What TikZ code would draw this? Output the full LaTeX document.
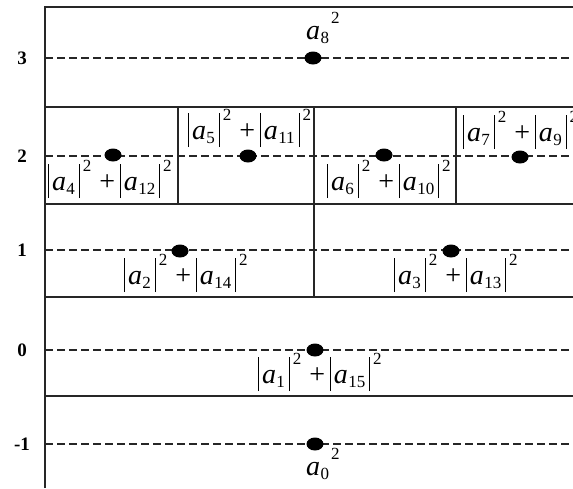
\documentclass[tikz,border=0pt]{standalone}
\usepackage{fontspec}
\setmainfont{Liberation Serif}
\usetikzlibrary{shapes.geometric}

% building blocks for the level labels
\newcommand\vrl{\rule[-8pt]{0.9pt}{34pt}}
\newcommand\scr{\fontsize{17}{17}\selectfont}
\newcommand\absq[1]{\vrl\kern3pt\textit{a}\kern0.3pt\raisebox{-4pt}{\scr #1}\kern4pt\vrl\kern3pt\raisebox{19pt}{\scr 2}}
\newcommand\plusop{\kern8pt+\kern5pt}
\newcommand\asq[1]{\textit{a}\kern0.3pt\raisebox{-4pt}{\scr #1}\kern2pt\raisebox{16pt}{\scr 2}}

\begin{document}
\begin{tikzpicture}[x=1pt, y=-1pt,
  frame/.style={line width=1.2pt, black!85},
  guide/.style={line width=1.1pt, black!85, dash pattern=on 8pt off 4pt},
  dot/.style={ellipse, fill=black, minimum width=17pt, minimum height=13pt, inner sep=0pt},
  term/.style={inner sep=0pt, anchor=base west, font=\fontsize{28}{28}\selectfont},
  rowlab/.style={font=\fontsize{19}{19}\selectfont\bfseries}]
\useasboundingbox (0,0) rectangle (573,488);
\clip (0,0) rectangle (573,488);

% frame: left axis, band separators and cell dividers
\draw[frame] (45,488) -- (45,7) -- (573,7);
\foreach \y in {107,204,297,396} \draw[frame] (45,\y) -- (573,\y);
\foreach \x in {178,314,456} \draw[frame] (\x,107) -- (\x,204);
\draw[frame] (314,204) -- (314,297);

% dashed level lines
\foreach \y in {58,156,250,350,444} \draw[guide] (45,\y) -- (573,\y);

% level numbers
\node[rowlab] (r3) at (22,58) {3};
\node[rowlab] (r2) at (22,156) {2};
\node[rowlab] (r1) at (22,250) {1};
\node[rowlab] (r0) at (22,350) {0};
\node[rowlab] (rm) at (22,444) {-1};

% energy points
\node[dot] (d8) at (313,58) {};
\node[dot] (d4) at (113,155) {};
\node[dot] (d5) at (248,156) {};
\node[dot] (d6) at (384,155) {};
\node[dot] (d7) at (520,157) {};
\node[dot] (d2) at (180,251) {};
\node[dot] (d3) at (451,251) {};
\node[dot] (d1) at (315,350) {};
\node[dot] (d0) at (315,444) {};

% labels
\node[term] (t8) at (306,39) {\asq{8}};
\node[term] (t4) at (48,190) {\absq{4}\plusop\absq{12}};
\node[term] (t5) at (188,139) {\absq{5}\plusop\absq{11}};
\node[term] (t6) at (327,190) {\absq{6}\plusop\absq{10}};
\node[term] (t7) at (463,141) {\absq{7}\plusop\absq{9}};
\node[term] (t2) at (124,284) {\absq{2}\plusop\absq{14}};
\node[term] (t3) at (394,284) {\absq{3}\plusop\absq{13}};
\node[term] (t1) at (258,383) {\absq{1}\plusop\absq{15}};
\node[term] (t0) at (306,475) {\asq{0}};
\end{tikzpicture}
\end{document}
